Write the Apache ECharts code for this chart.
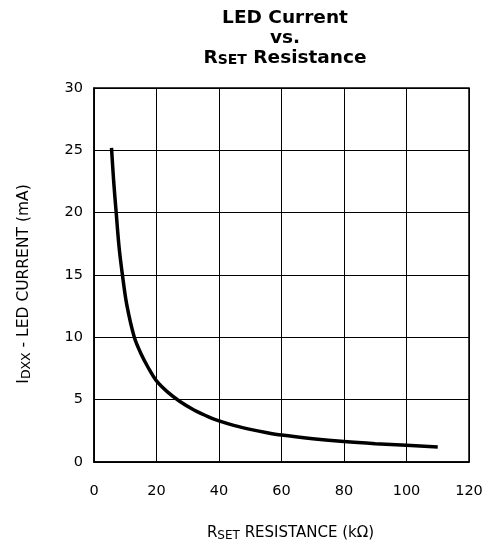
<!DOCTYPE html>
<html><head><meta charset="utf-8">
<script src="https://cdn.jsdelivr.net/npm/echarts@6/dist/echarts.min.js"></script>
<style>html,body{margin:0;padding:0;background:#fff}#c{width:488px;height:548px}</style>
</head><body><div id="c"></div>
<script>
const resistance = [5.6, 6.3, 7.1, 8.0, 9.1, 10.5, 12.9, 15, 17.5, 20, 23.5, 27.5, 32, 37, 40, 45, 50, 55, 60, 70, 80, 90, 100, 110];
const current    = [25.2, 22.5, 20, 17.3, 15, 12.6, 10, 8.7, 7.5, 6.5, 5.62, 4.85, 4.17, 3.58, 3.3, 2.92, 2.62, 2.37, 2.16, 1.87, 1.64, 1.47, 1.34, 1.21];
const xTicks = [0, 20, 40, 60, 80, 100, 120];
const yTicks = [0, 5, 10, 15, 20, 25, 30];

const chart = echarts.init(document.getElementById('c'));
const lab = "'DejaVu Sans', sans-serif";
const tf = "'DejaVu Sans', sans-serif";
chart.setOption({
  animation: false,
  title: {
    text: '{b|LED Current}\n{b|vs.}\n{b|R}{s|SET}{b| Resistance}',
    left: 280, top: 3, textAlign: 'center',
    textStyle: {
      fontFamily: tf, fontWeight: 'bold', fontSize: 18.5, lineHeight: 20, color: '#000',
      rich: {
        b: {fontFamily: tf, fontWeight: 'bold', fontSize: 18.5, lineHeight: 20, color: '#000'},
        s: {fontFamily: tf, fontWeight: 'bold', fontSize: 14, lineHeight: 20, color: '#000', padding: [5, 0, 0, 0]}
      }
    }
  },
  grid: {left: 94, right: 19, top: 88, bottom: 86, show: true, borderColor: '#000', borderWidth: 1.5, backgroundColor: 'transparent'},
  xAxis: {
    type: 'value', min: xTicks[0], max: xTicks[xTicks.length - 1], interval: 20,
    name: '{n|R}{s|SET}{n| RESISTANCE (kΩ)}', nameLocation: 'middle', nameGap: 62,
    nameTextStyle: {padding: [0, 0, 0, 18], rich: {
      n: {fontFamily: lab, fontSize: 15, color: '#000', lineHeight: 18},
      s: {fontFamily: lab, fontSize: 12, color: '#000', lineHeight: 18, padding: [5, 0, 0, 0]}
    }},
    axisLine: {show: true, lineStyle: {color: '#000', width: 1.5}},
    axisTick: {show: false},
    axisLabel: {margin: 22, fontFamily: lab, fontSize: 14.5, color: '#000'},
    splitLine: {show: true, lineStyle: {color: '#000', width: 1}}
  },
  yAxis: {
    type: 'value', min: yTicks[0], max: yTicks[yTicks.length - 1], interval: 5,
    name: '{n|I}{s|DXX}{n| - LED CURRENT (mA)}', nameLocation: 'middle', nameGap: 61, nameRotate: 90,
    nameTextStyle: {padding: [0, 18, 0, 0], rich: {
      n: {fontFamily: lab, fontSize: 15.5, color: '#000', lineHeight: 18},
      s: {fontFamily: lab, fontSize: 12.5, color: '#000', lineHeight: 18, padding: [5, 0, 0, 0]}
    }},
    axisLine: {show: true, lineStyle: {color: '#000', width: 1.5}},
    axisTick: {show: false},
    axisLabel: {margin: 11, fontFamily: lab, fontSize: 14.5, color: '#000'},
    splitLine: {show: true, lineStyle: {color: '#000', width: 1}}
  },
  series: [{
    type: 'line', smooth: 0.3, showSymbol: false,
    data: resistance.map((r, i) => [r, current[i]]),
    lineStyle: {color: '#000', width: 3.5}
  }]
});
</script></body></html>
